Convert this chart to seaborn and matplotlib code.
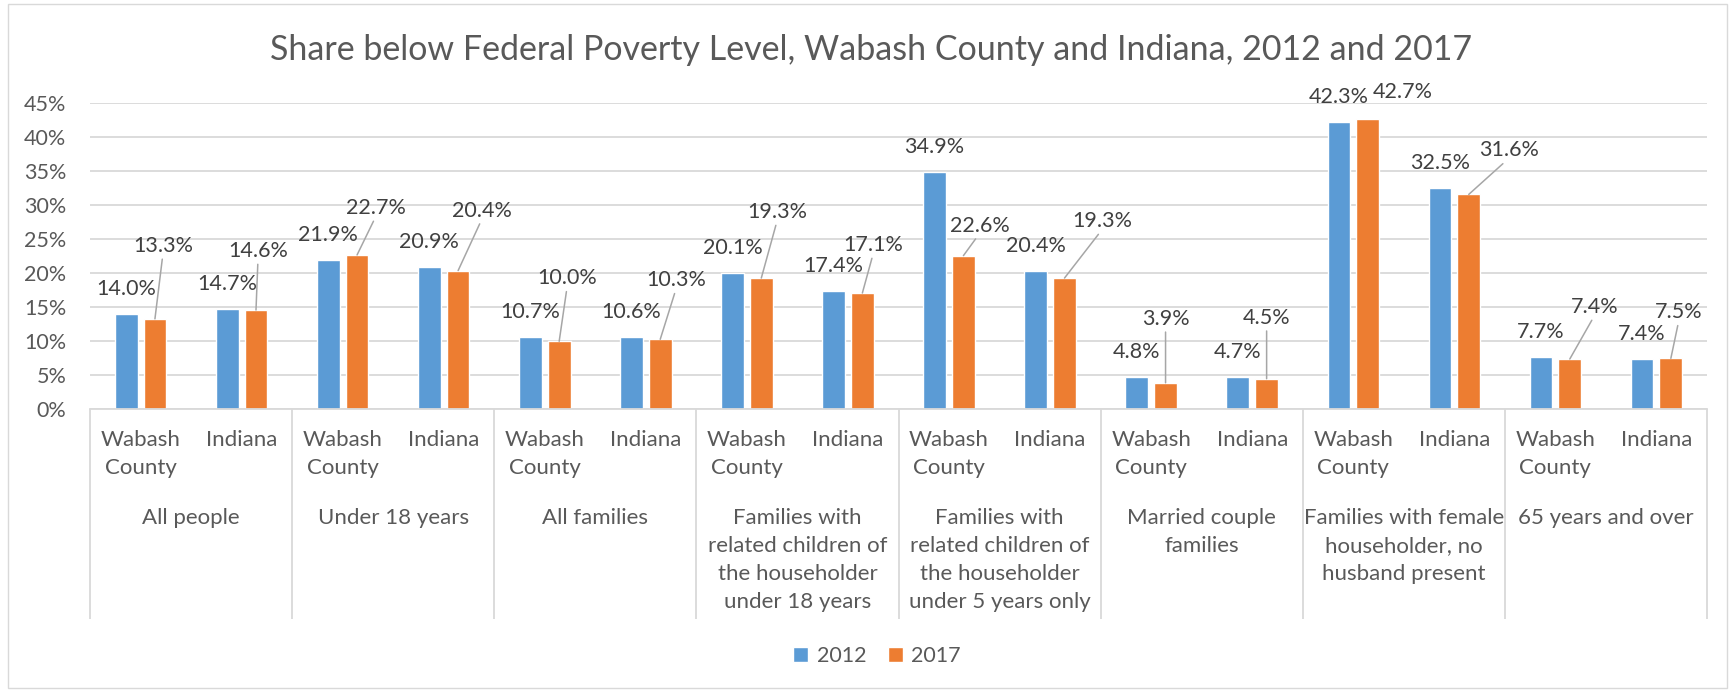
import pandas as pd
import matplotlib.pyplot as plt
import seaborn as sns
from matplotlib.patches import Rectangle
from matplotlib.ticker import FuncFormatter

# Data (percent below poverty level)
groups = ["All people", "Under 18 years", "All families",
          "Families with\nrelated children of\nthe householder\nunder 18 years",
          "Families with\nrelated children of\nthe householder\nunder 5 years only",
          "Married couple\nfamilies",
          "Families with female\nhouseholder, no\nhusband present",
          "65 years and over"]
places = ["Wabash\nCounty", "Indiana"]
years = ["2012", "2017"]
share_2012 = [14.0, 14.7, 21.9, 20.9, 10.7, 10.6, 20.1, 17.4,
              34.9, 20.4, 4.8, 4.7, 42.3, 32.5, 7.7, 7.4]
share_2017 = [13.3, 14.6, 22.7, 20.4, 10.0, 10.3, 19.3, 17.1,
              22.6, 19.3, 3.9, 4.5, 42.7, 31.6, 7.4, 7.5]

# hand-placed 2017 labels in the original (pixel offsets from bar top)
offsets_2017 = [(8, 73), (2, 59), (19, 47), (24, 60), (8, 63), (16, 59), (16, 66), (11, 48),
                (16, 30), (38, 57), (0, 64), (0, 61), (35, 27), (40, 44), (25, 52), (8, 46)]
no_leader = {12}

slots = [f"{g}|{p}" for g in groups for p in places]
df = pd.DataFrame({
    "slot": slots * 2,
    "year": [years[0]] * len(slots) + [years[1]] * len(slots),
    "share": share_2012 + share_2017,
})

sns.set_theme(style="white")
plt.rcParams['font.family'] = ['Lato', 'DejaVu Sans']

W, H = 1734, 691
fig, ax = plt.subplots(figsize=(W / 100, H / 100), dpi=100)
ax_top, ax_bot = 103.3, 409.3
fig.subplots_adjust(left=90 / W, right=1707 / W, bottom=1 - ax_bot / H, top=1 - ax_top / H)
ax_h = ax_bot - ax_top

def ypix(y):
    # pixel row (from top of figure) -> axes fraction
    return (ax_bot - y) / ax_h

sns.barplot(data=df, x="slot", y="share", hue="year", order=slots, hue_order=years,
            palette=["#5b9bd5", "#ed7d31"], width=0.57, gap=0.21, ax=ax,
            saturation=1, errorbar=None)

ax.set_ylim(0, 45)
ax.set_xlim(-0.5, len(slots) - 0.5)
ax.set_yticks(range(0, 50, 5))
ax.yaxis.set_major_formatter(FuncFormatter(lambda v, _: f"{v:.0f}%"))
ax.tick_params(axis='y', length=0, pad=17, labelsize=15.5, labelcolor="#595959")
ax.set_xticks([])
ax.set_xlabel("")
ax.set_ylabel("")
ax.grid(axis='y', color="#d9d9d9", lw=1.3)
ax.set_axisbelow(True)
for s in ["left", "right", "top"]:
    ax.spines[s].set_visible(False)
ax.spines["bottom"].set_color("#d9d9d9")
ax.spines["bottom"].set_linewidth(1.3)

# data labels
label_color = "#404040"
lab_size = 15.5
for bar in ax.containers[0]:
    ax.annotate(f"{bar.get_height():.1f}%", (bar.get_x() + bar.get_width() / 2, bar.get_height()),
                xytext=(0, 25), textcoords="offset pixels", ha="center", va="center",
                fontsize=lab_size, color=label_color, annotation_clip=False)
for i, bar in enumerate(ax.containers[1]):
    dx, dy = offsets_2017[i]
    arrow = None
    if i not in no_leader:
        arrow = dict(arrowstyle="-", color="#a6a6a6", lw=1.1, shrinkA=0, shrinkB=0, relpos=(0.5, 0.1))
    ax.annotate(f"{bar.get_height():.1f}%", (bar.get_x() + bar.get_width() / 2, bar.get_height()),
                xytext=(dx, dy), textcoords="offset pixels", ha="center", va="center",
                fontsize=lab_size, color=label_color, arrowprops=arrow, annotation_clip=False)

# two-level category axis
cat_size = 16
xt = ax.get_xaxis_transform()
for i, s in enumerate(slots):
    ax.text(i, ypix(430), s.split("|")[1], transform=xt, ha="center", va="top",
            fontsize=cat_size, color="#595959", linespacing=1.5)
for j, g in enumerate(groups):
    ax.text(2 * j + 0.5, ypix(508), g, transform=xt, ha="center", va="top",
            fontsize=cat_size, color="#595959", linespacing=1.5, multialignment="center")
ax.vlines([2 * j - 0.5 for j in range(len(groups) + 1)], ypix(619), 0, transform=xt,
          color="#d9d9d9", lw=1.3, clip_on=False)

sns.move_legend(ax, loc="center", bbox_to_anchor=(877 / W, 1 - 656 / H), bbox_transform=fig.transFigure,
                ncol=2, frameon=False, title=None, fontsize=15.5, handlelength=0.7, handleheight=0.7,
                columnspacing=1.0, handletextpad=0.4, labelcolor="#595959")

fig.text(871 / W, 1 - 50 / H, "Share below Federal Poverty Level, Wabash County and Indiana, 2012 and 2017",
         ha="center", va="center", fontsize=24.5, color="#595959")

fig.patches.append(Rectangle((8 / W, 3 / H), 1719 / W, 684 / H, transform=fig.transFigure,
                             fill=False, edgecolor="#d9d9d9", lw=1))

fig.savefig("out.png", dpi=100)
